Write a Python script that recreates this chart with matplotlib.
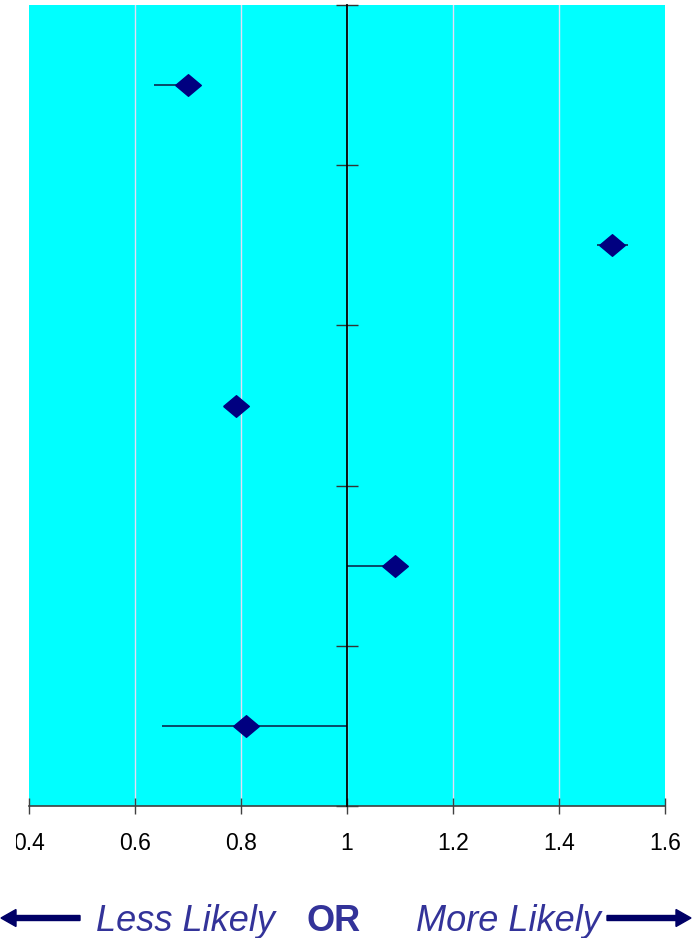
import matplotlib.pyplot as plt
from matplotlib.patches import FancyArrow
from matplotlib.transforms import Bbox

# odds ratios with confidence limits, top row first
or_vals = [0.70, 1.50, 0.79, 1.09, 0.81]
ci_low = [0.636, 1.472, 0.775, 1.00, 0.651]
ci_high = [0.72, 1.53, 0.81, 1.11, 1.00]
x_ticks = [0.4, 0.6, 0.8, 1.0, 1.2, 1.4, 1.6]
x_labels = ['0.4', '0.6', '0.8', '1', '1.2', '1.4', '1.6']

plt.rcParams['font.family'] = ['Liberation Sans', 'DejaVu Sans']

fig = plt.figure(figsize=(6.96, 9.38), dpi=100)
ax = fig.add_axes([29 / 696, 1 - 806 / 938, 636 / 696, 801 / 938])
ax.set_facecolor('#00ffff')

rows = list(range(len(or_vals)))

# vertical grid
for xv in x_ticks[1:-1]:
    ax.axvline(xv, color='#e4dcf4', lw=1, zorder=1)

# confidence intervals and point estimates
ax.hlines(rows, ci_low, ci_high, color='#0b3a5c', lw=1.3, zorder=2)
diamond = [(-1, 0), (0, 0.84), (1, 0), (0, -0.84), (-1, 0)]
ax.plot(or_vals, rows, linestyle='none', marker=diamond, markersize=18.5,
        color='#000080', zorder=3)

ax.set_xlim(0.4, 1.6)
ax.set_ylim(len(or_vals) - 0.5, -0.5)

# y axis drawn as the line of no effect
ax.spines['left'].set_position(('data', 1.0))
ax.spines['left'].set_color('black')
ax.spines['left'].set_linewidth(1.3)
ax.spines['left'].set_zorder(4)
ax.spines['right'].set_visible(False)
ax.spines['top'].set_visible(False)
ax.spines['bottom'].set_color('#404040')
ax.spines['bottom'].set_linewidth(1.2)

ax.set_yticks([r - 0.5 for r in rows] + [len(or_vals) - 0.5])
ax.set_yticklabels([])
ax.tick_params(axis='y', direction='inout', length=16, width=1, color='#333333')

ax.set_xticks(x_ticks)
ax.set_xticklabels(x_labels)
ax.tick_params(axis='x', direction='inout', length=11, width=1, color='#404040',
               labelsize=16.5, pad=13)
# leftmost label runs off the page edge
first = ax.get_xticklabels()[0]
first.set_clip_box(Bbox.from_extents(16, 0, 696, 938))
first.set_clip_on(True)

# direction legend below the axis
txt = dict(color='#333399', fontsize=26, va='baseline')
fig.text(186 / 696, 1 - 931 / 938, 'Less Likely', style='italic', ha='center', **txt)
fig.text(334 / 696, 1 - 931 / 938, 'OR', weight='bold', ha='center', **txt)
fig.text(508 / 696, 1 - 931 / 938, 'More Likely', style='italic', ha='center', **txt)

arrow_y = (938 - 918) / 100
fig.add_artist(FancyArrow(0.80, arrow_y, -0.79, 0, width=0.05, head_width=0.17,
                          head_length=0.15, length_includes_head=True,
                          color='#000066', transform=fig.dpi_scale_trans))
fig.add_artist(FancyArrow(6.07, arrow_y, 0.84, 0, width=0.05, head_width=0.17,
                          head_length=0.15, length_includes_head=True,
                          color='#000066', transform=fig.dpi_scale_trans))

fig.savefig('out.png', dpi=100)
